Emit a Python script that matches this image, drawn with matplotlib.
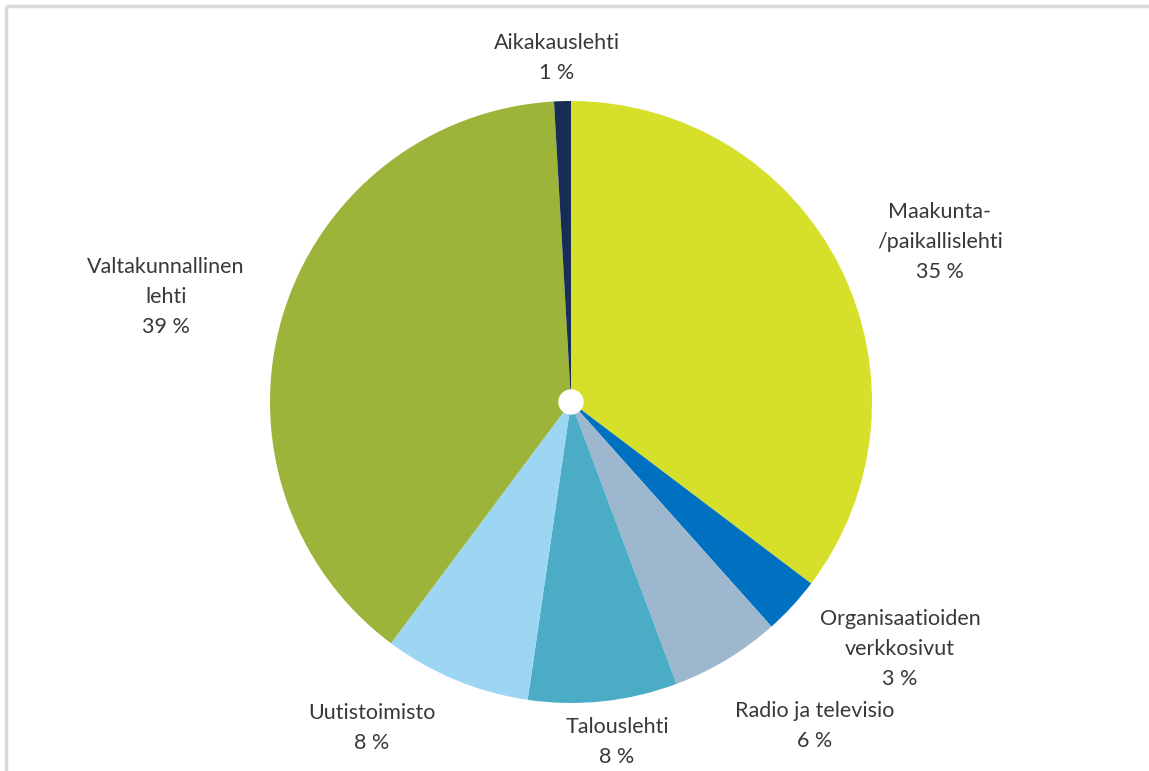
import numpy as np
import matplotlib
matplotlib.use("Agg")
import matplotlib.pyplot as plt

# Slices, clockwise from 12 o'clock
labels = ["Maakunta-\n/paikallislehti", "Organisaatioiden\nverkkosivut",
          "Radio ja televisio", "Talouslehti", "Uutistoimisto",
          "Valtakunnallinen\nlehti", "Aikakauslehti"]
shares = [35.3, 3.1, 5.9, 8.0, 7.9, 38.9, 0.9]
pct_text = ["35 %", "3 %", "6 %", "8 %", "8 %", "39 %", "1 %"]
colors = ["#D6DF29", "#0070C0", "#9DB8CE", "#4BACC6", "#9DD6F3",
          "#9CB43A", "#172D55"]

W, H = 1149, 771
fig = plt.figure(figsize=(W / 100, H / 100), dpi=100)
ax = fig.add_axes([0, 0, 1, 1])

cx, cy, r = 571, H - 402, 301
ax.pie(shares, colors=colors, startangle=90, counterclock=False,
       center=(cx, cy), radius=r, frame=True,
       wedgeprops=dict(linewidth=0))
ax.set_xlim(0, W)
ax.set_ylim(0, H)
ax.set_aspect("equal")
ax.axis("off")
ax.add_patch(plt.Circle((cx, cy), 12, color="white", zorder=5))

# label anchor points (pixel coords, top-down)
label_pos = [(940, 242), (900, 649), (815, 726), (617, 742),
             (372, 728), (166, 297), (557, 58)]
for lab, pct, (x, y) in zip(labels, pct_text, label_pos):
    ax.text(x, H - y, lab + "\n" + pct, ha="center", va="center",
            fontsize=15.5, family="Lato", color="#383838", linespacing=1.65)

# partial frame from the original screenshot (top and left edge)
ax.plot([6, W], [H - 6, H - 6], color="#D9D9D9", lw=2.5, solid_capstyle="butt")
ax.plot([6, 6], [0, H - 6], color="#D9D9D9", lw=2.5, solid_capstyle="butt")

fig.savefig("out.png", dpi=100)
